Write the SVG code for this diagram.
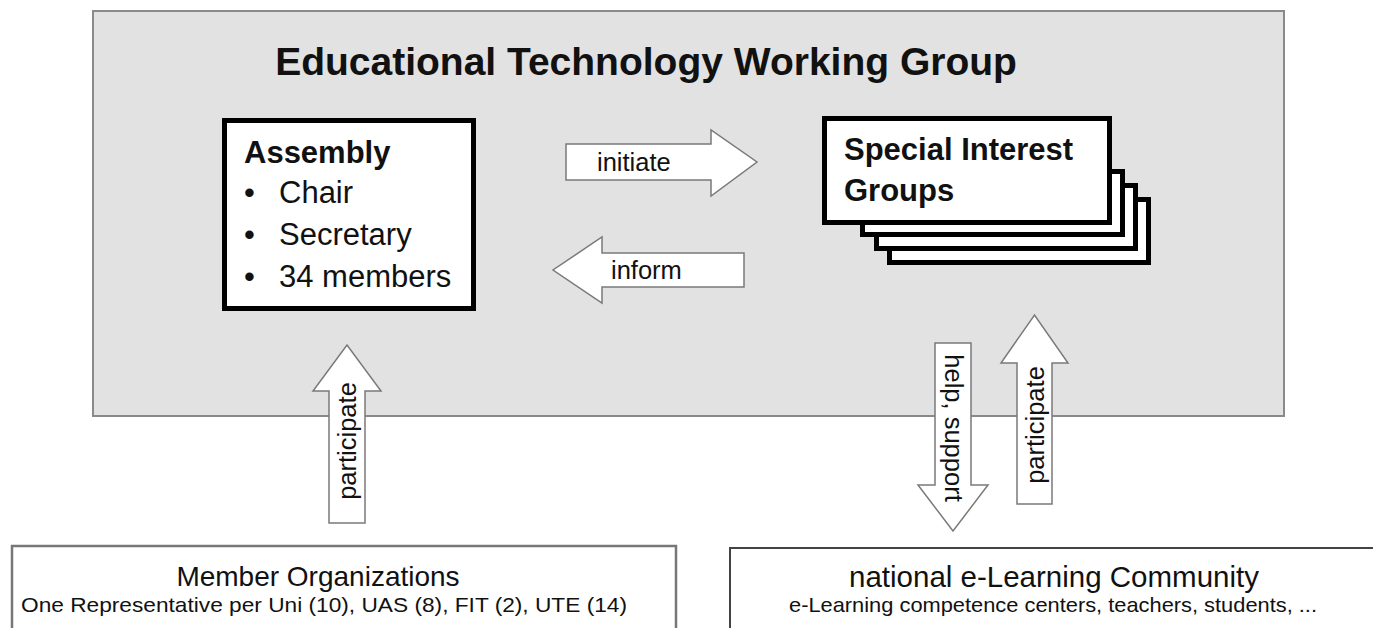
<svg xmlns="http://www.w3.org/2000/svg" width="1373" height="628" viewBox="0 0 1373 628">
<style>
text{font-family:"Liberation Sans",Arial,Helvetica,sans-serif;fill:#111}
.b{font-weight:bold}
.box{fill:#fff;stroke:#000;stroke-width:5}
.arr{fill:#fff;stroke:#7a7a7a;stroke-width:1.5;stroke-linejoin:miter}
.lbl{font-size:25.5px}
</style>
<rect width="1373" height="628" fill="#fff"/>
<g id="etwg">
<rect x="93" y="11" width="1191" height="405" fill="#e2e2e2" stroke="#8a8a8a" stroke-width="2"/>
<text class="b" x="646" y="75" font-size="39" text-anchor="middle">Educational Technology Working Group</text>
</g>
<g id="assembly">
<rect class="box" x="224.5" y="120.5" width="249" height="188"/>
<text class="b" x="244" y="163" font-size="31">Assembly</text>
<g font-size="31">
<text x="244" y="203">•</text><text x="279" y="203">Chair</text>
<text x="244" y="245">•</text><text x="279" y="245">Secretary</text>
<text x="244" y="287">•</text><text x="279" y="287">34 members</text>
</g>
</g>
<g id="sig">
<rect class="box" x="889.5" y="199.5" width="259" height="63"/>
<rect class="box" x="876.5" y="185.5" width="259" height="63"/>
<rect class="box" x="862.5" y="171.5" width="260" height="63"/>
<rect class="box" x="824.5" y="118.5" width="285" height="104"/>
<text class="b" x="844" y="160" font-size="31">Special Interest</text>
<text class="b" x="844" y="201" font-size="31">Groups</text>
</g>
<g id="member-orgs">
<rect x="12" y="546" width="664" height="100" fill="#fff" stroke="#777" stroke-width="2.5"/>
<text x="318" y="586" font-size="28" text-anchor="middle">Member Organizations</text>
<text x="324" y="612" font-size="21" text-anchor="middle" textLength="606" lengthAdjust="spacingAndGlyphs">One Representative per Uni (10), UAS (8), FIT (2), UTE (14)</text>
</g>
<g id="community">
<rect x="730" y="548" width="700" height="100" fill="#fff" stroke="#444" stroke-width="2"/>
<text x="1054" y="587" font-size="29.5" text-anchor="middle">national e-Learning Community</text>
<text x="1053" y="612" font-size="21" text-anchor="middle" textLength="528" lengthAdjust="spacingAndGlyphs">e-Learning competence centers, teachers, students, ...</text>
</g>
<g id="connectors">
<g id="initiate">
<polygon class="arr" points="566,144 711,144 711,130 757,162 711,196 711,180 566,180"/>
<text class="lbl" x="597" y="171">initiate</text>
</g>
<g id="inform">
<polygon class="arr" points="744,253 602,253 602,237 553,270 602,303 602,287 744,287"/>
<text class="lbl" x="611" y="279">inform</text>
</g>
<g id="participate-left">
<polygon class="arr" points="329,523 329,391 313,391 347,345 381,391 365,391 365,523"/>
<text class="lbl" transform="translate(347,441) rotate(-90)" x="0" y="9" text-anchor="middle">participate</text>
</g>
<g id="help-support">
<polygon class="arr" points="935,343 971,343 971,485 988,485 953,531 918,485 935,485"/>
<text class="lbl" transform="translate(953,428) rotate(90)" x="0" y="8" text-anchor="middle">help, support</text>
</g>
<g id="participate-right">
<polygon class="arr" points="1017,504 1017,363 1001,363 1034.5,315 1068,363 1052,363 1052,504"/>
<text class="lbl" transform="translate(1035,425) rotate(-90)" x="0" y="9" text-anchor="middle">participate</text>
</g>
</g>
</svg>
